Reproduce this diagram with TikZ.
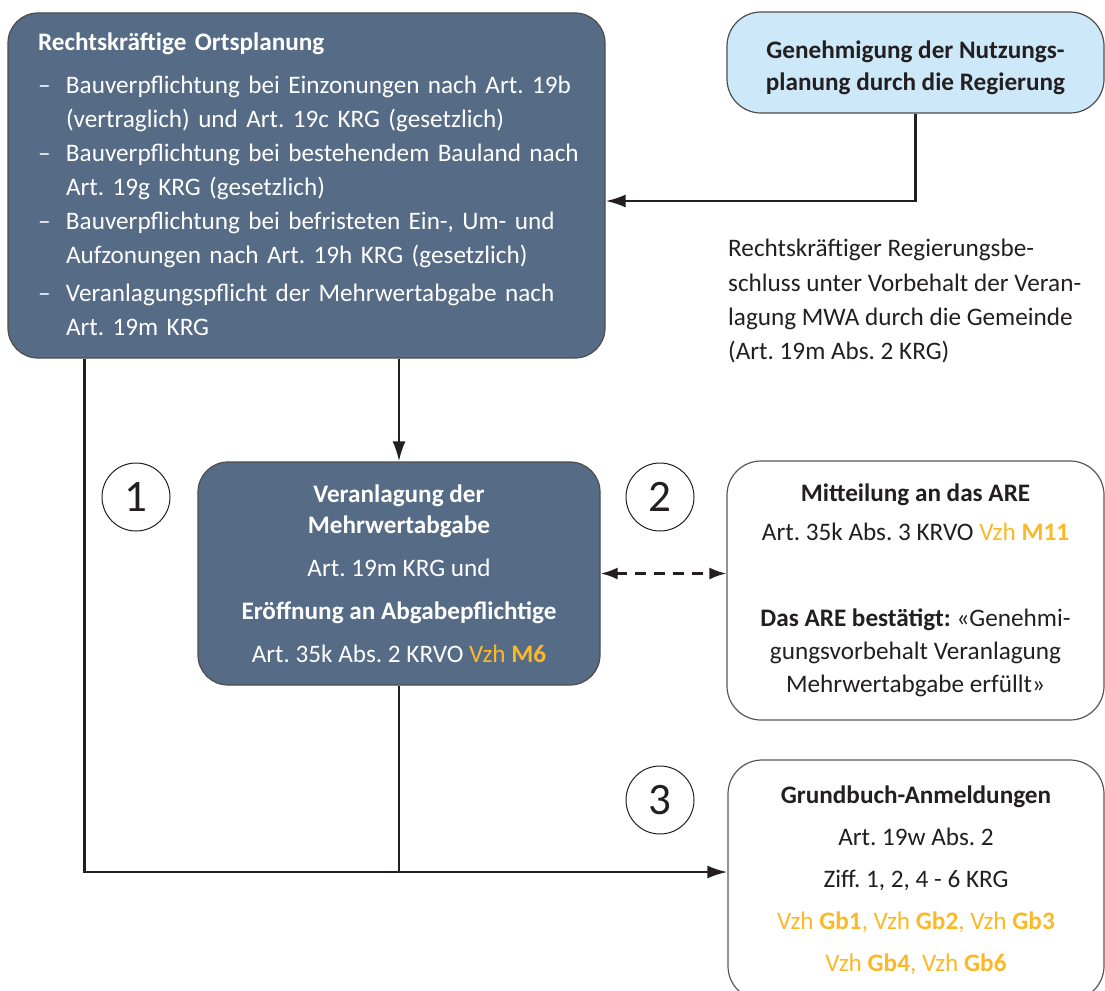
\documentclass[tikz,border=0pt]{standalone}
\usepackage{fontspec}
\setmainfont{Carlito}
\usepackage{tikz}
\usetikzlibrary{positioning,arrows.meta}
\definecolor{slate}{HTML}{566B86}
\definecolor{paleblue}{HTML}{CDE8F8}
\definecolor{vzh}{HTML}{FBB927}
\definecolor{ink}{HTML}{231F20}
\newcommand{\vz}[1]{\textcolor{vzh}{Vzh \textbf{#1}}}
\frenchspacing

\begin{document}
\begin{tikzpicture}[x=1pt,y=-1pt,>={Latex[length=20pt,width=13pt]},
  font=\fontsize{25.2}{33}\selectfont,text=ink]
\tikzstyle{darkbox}=[draw=ink!80,line width=1.2pt,rounded corners=30pt,
  fill=slate,text=white,align=center,inner sep=0pt]
\tikzstyle{lightbox}=[draw=ink!80,line width=1.2pt,rounded corners=34pt,
  fill=paleblue,align=center,inner sep=0pt]
\tikzstyle{whitebox}=[draw=ink!75,line width=1.2pt,rounded corners=34pt,
  fill=white,align=center,inner sep=0pt]
\tikzstyle{numcirc}=[draw=ink,circle,line width=1pt,minimum size=68pt,
  inner sep=0pt,font=\fontsize{45}{45}\selectfont]
\tikzstyle{conn}=[draw=ink,line width=2.5pt]
\tikzstyle{dconn}=[draw=ink,line width=2.4pt,dash pattern=on 11pt off 8pt,
  {Latex[length=17pt,width=12pt]}-{Latex[length=17pt,width=12pt]}]

\useasboundingbox (0,0) rectangle (1105,990);

% boxes
\node[darkbox,minimum width=597pt,minimum height=345pt,text width=537pt,
  align=left,font=\fontsize{25.2}{33.5}\selectfont] (orts) at (306.5,185.5)
  {\rule{0pt}{25pt}\textbf{Rechtskräftige Ortsplanung}\\[14pt]
   \begin{tabular}{@{}p{28pt}@{}l@{}}
   – & Bauverpflichtung bei Einzonungen nach Art. 19b\\
     & (vertraglich) und Art. 19c KRG (gesetzlich)\\[1pt]
   – & Bauverpflichtung bei bestehendem Bauland nach\\
     & Art. 19g KRG (gesetzlich)\\[1pt]
   – & Bauverpflichtung bei befristeten Ein-, Um- und\\
     & Aufzonungen nach Art. 19h KRG (gesetzlich)\\[5pt]
   – & Veranlagungspflicht der Mehrwertabgabe nach\\
     & Art. 19m KRG
   \end{tabular}};
\node[lightbox,minimum width=377pt,minimum height=101pt] (geneh) at (915.5,62.5)
  {\rule{0pt}{28pt}\textbf{Genehmigung der Nutzungs-}\\[-1pt]
   \textbf{planung durch die Regierung}};
\node[darkbox,minimum width=402pt,minimum height=223pt] (verl) at (399,573.5)
  {\textbf{Veranlagung der}\\[-2pt]\textbf{Mehrwertabgabe}\\[10pt]
   Art. 19m KRG und\\[10pt]
   \textbf{Eröffnung an Abgabepflichtige}\\[10pt]
   Art. 35k Abs. 2 KRVO \vz{M6}};
\node[whitebox,minimum width=377pt,minimum height=259pt] (mitt) at (915.5,590.5)
  {\textbf{Mitteilung an das ARE}\\[6pt]
   Art. 35k Abs. 3 KRVO \vz{M11}\\[53pt]
   \textbf{Das ARE bestätigt:} «Genehmi-\\
   gungsvorbehalt Veranlagung\\
   Mehrwertabgabe erfüllt»};
\node[whitebox,minimum width=376pt,minimum height=240pt] (grund) at (916,880)
  {\textbf{Grundbuch-Anmeldungen}\\[9pt]
   Art. 19w Abs. 2\\[9pt]
   Ziff. 1, 2, 4 - 6 KRG\\[9pt]
   \vz{Gb1}\textcolor{vzh}{,} \vz{Gb2}\textcolor{vzh}{,} \vz{Gb3}\\[9pt]
   \vz{Gb4}\textcolor{vzh}{,} \vz{Gb6}};

\node[anchor=north west,align=left,inner sep=0pt,
  font=\fontsize{25.2}{34.3}\selectfont] (beschluss) at (728,239)
  {Rechtskräftiger Regierungsbe-\\
   schluss unter Vorbehalt der Veran-\\
   lagung MWA durch die Gemeinde\\
   (Art. 19m Abs. 2 KRG)};

% step numbers
\node[numcirc] (n1) at (136,497) {1};
\node[numcirc] (n2) at (660,497) {2};
\node[numcirc] (n3) at (660,800) {3};

% connectors
\coordinate (ltap) at ([xshift=77pt]orts.south west);
\coordinate (grundin) at ([yshift=8pt]grund.west);
\draw[conn,->] (geneh.south) |- ([yshift=-15.5pt]orts.east);
\draw[conn,->] (orts.south -| verl.north) -- (verl.north);
\draw[conn,->] (ltap) |- (grundin);
\draw[conn] (verl.south) -- (verl.south |- grundin);
\draw[dconn] (verl.east) -- (verl.east -| mitt.west);
\end{tikzpicture}
\end{document}
